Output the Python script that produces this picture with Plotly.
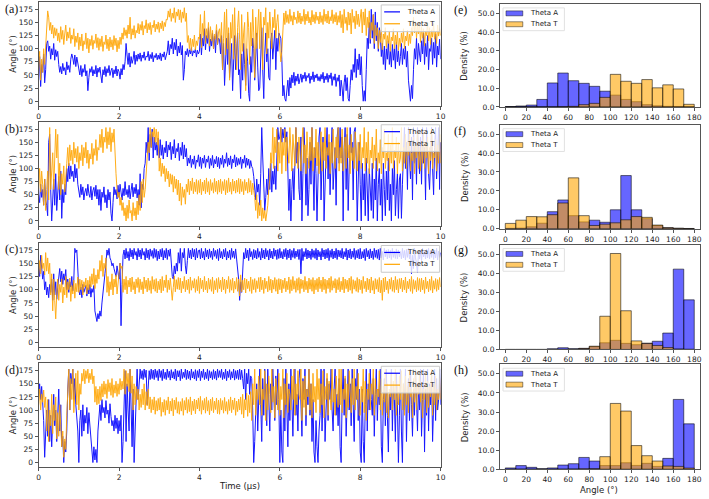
import plotly.graph_objects as go

W, H = 709, 499

# ---------------- data ----------------
time_us = [round(i * 0.025, 3) for i in range(401)]

a_theta_T = (
    [62, 95, 40, 80, 55, 100, 70, 110, 150, 172, 160, 135, 150, 128, 145, 120, 140, 125, 138, 115] +
    [130, 112, 142, 118, 135, 108, 128, 145, 115, 132, 120, 140, 110, 126, 118, 138, 104, 124, 112, 130] +
    [98, 122, 105, 128, 96, 115, 108, 130, 100, 120, 92, 118, 106, 125, 99, 116, 110, 128, 102, 121] +
    [97, 119, 104, 124, 95, 113, 108, 126, 100, 118, 96, 122, 103, 117, 98, 125, 106, 120, 94, 116] +
    [100, 122, 108, 130, 118, 140, 125, 136, 120, 145, 128, 160, 118, 138, 126, 144, 120, 135, 130, 148] +
    [128, 146, 135, 152, 126, 144, 138, 155, 130, 148, 136, 150, 127, 145, 140, 154, 132, 147, 137, 151] +
    [131, 149, 138, 153, 134, 150, 142, 156, 155, 172, 160, 176, 152, 168, 158, 178, 150, 170, 162, 175] +
    [155, 174, 150, 170, 158, 178, 152, 168, 112, 125, 100, 120, 96, 118, 104, 126, 98, 115, 106, 122] +
    [118, 165, 102, 148, 125, 172, 110, 138, 120, 150, 105, 142, 115, 135, 100, 128, 118, 146, 108, 132] +
    [138, 112, 150, 60, 120, 170, 88, 175, 100, 140, 40, 150, 120, 165, 80, 178, 110, 60, 140, 172] +
    [118, 60, 165, 95, 130, 150, 20, 110, 170, 140, 70, 150, 105, 175, 130, 45, 160, 100, 145, 175] +
    [100, 170, 130, 60, 160, 145, 178, 90, 150, 120, 170, 135, 100, 160, 140, 175, 120, 150, 165, 130] +
    [110, 75, 95, 150, 168, 146, 172, 150, 165, 148, 175, 152, 163, 145, 170, 155, 160, 148, 172, 150] +
    [168, 147, 162, 152, 175, 146, 166, 153, 171, 149, 160, 145, 173, 151, 165, 148, 170, 154, 162, 147] +
    [170, 150, 163, 146, 175, 152, 166, 149, 172, 147, 161, 153, 174, 148, 165, 151, 169, 145, 163, 150] +
    [172, 140, 165, 130, 175, 148, 160, 135, 170, 145, 168, 128, 175, 150, 162, 138, 172, 146, 166, 142] +
    [158, 175, 130, 170, 145, 176, 125, 160, 140, 172, 118, 150, 135, 165, 110, 145, 125, 140, 100, 135] +
    [112, 136, 98, 128, 118, 140, 102, 125, 110, 134, 95, 122, 115, 138, 100, 126, 108, 132, 97, 120] +
    [104, 130, 112, 138, 100, 124, 115, 135, 106, 128, 110, 140, 125, 160, 130, 152, 120, 145, 128, 150] +
    [112, 142, 120, 138, 105, 134, 125, 150, 115, 140, 108, 136, 122, 148, 118, 132, 110, 145, 124, 138] +
    [125])
a_theta_A = (
    [40, 85, 28, 70, 55, 90, 35, 60, 110, 115, 95, 105, 80, 100, 88, 110, 78, 98, 85, 95] +
    [70, 55, 66, 52, 72, 58, 64, 50, 75, 60, 68, 55, 80, 90, 82, 70, 88, 66, 84, 72] +
    [65, 50, 68, 47, 62, 55, 70, 48, 58, 20, 45, 62, 55, 66, 48, 60, 52, 68, 46, 63] +
    [55, 65, 48, 35, 60, 50, 66, 47, 62, 54, 68, 49, 58, 63, 45, 60, 52, 67, 48, 61] +
    [56, 42, 62, 50, 70, 60, 75, 110, 88, 70, 92, 65, 85, 72, 80, 95, 70, 88, 76, 90] +
    [80, 92, 76, 88, 82, 94, 78, 86, 84, 95, 77, 89, 81, 93, 75, 87, 83, 91, 79, 88] +
    [80, 92, 77, 90, 84, 94, 79, 88, 95, 115, 88, 108, 100, 120, 90, 112, 98, 118, 86, 105] +
    [92, 112, 88, 106, 40, 60, 95, 88, 100, 85, 98, 90, 102, 86, 96, 92, 100, 84, 97, 90] +
    [95, 128, 88, 120, 105, 138, 98, 125, 110, 140, 95, 118, 105, 130, 100, 124, 92, 135, 108, 120] +
    [118, 90, 125, 60, 110, 30, 95, 120, 70, 130, 45, 85, 110, 20, 80, 125, 60, 95, 130, 50] +
    [60, 5, 90, 40, 110, 70, 30, 100, 75, 15, 0, 85, 55, 120, 100, 40, 80, 130, 65, 20] +
    [25, 110, 140, 60, 5, 90, 130, 75, 100, 45, 40, 115, 130, 80, 110, 135, 60, 120, 95, 130] +
    [125, 120, 80, 10, 30, 5, 0, 20, 40, 10, 45, 25, 50, 35, 55, 30, 48, 38, 52, 33] +
    [40, 52, 36, 50, 43, 55, 38, 49, 45, 53, 34, 48, 41, 56, 37, 50, 44, 52, 39, 47] +
    [38, 51, 42, 55, 35, 48, 41, 53, 36, 50, 43, 54, 30, 47, 40, 52, 28, 45, 38, 50] +
    [10, 40, 25, 0, 35, 50, 20, 45, 5, 0, 30, 60, 40, 70, 55, 100, 45, 80, 60, 90] +
    [50, 85, 30, 0, 20, 0, 60, 120, 100, 150, 110, 175, 120, 165, 100, 170, 115, 150, 95, 140] +
    [125, 85, 110, 70, 105, 60, 100, 80, 115, 70, 95, 65, 108, 78, 100, 62, 112, 75, 96, 68] +
    [85, 110, 70, 100, 80, 105, 65, 95, 40, 20, 0, 30, 5, 60, 100, 80, 120, 70, 110, 90] +
    [75, 115, 90, 130, 70, 110, 85, 125, 60, 100, 95, 120, 70, 112, 82, 128, 65, 105, 88, 118] +
    [80])

b_theta_T = (
    [60, 100, 55, 95, 70, 30, 80, 20, 60, 95, 40, 178, 60, 100, 130, 60, 150, 175, 120, 165] +
    [60, 110, 50, 90, 70, 105, 55, 95, 110, 140, 105, 145, 115, 135, 108, 150, 120, 138, 112, 142] +
    [100, 130, 115, 145, 105, 140, 120, 150, 110, 135, 100, 128, 118, 148, 108, 138, 125, 155, 115, 140] +
    [135, 165, 140, 175, 130, 160, 150, 178, 138, 170, 145, 178, 132, 168, 150, 175, 120, 90, 60, 45] +
    [55, 30, 45, 20, 35, 10, 25, 0, 30, 5, 40, 15, 20, 0, 35, 10, 25, 2, 38, 12] +
    [50, 20, 75, 35, 80, 45, 60, 95, 110, 150, 130, 178, 140, 170, 160, 178, 150, 175, 145, 170] +
    [95, 120, 85, 110, 90, 105, 75, 100, 80, 95, 65, 90, 70, 88, 55, 85, 62, 80, 50, 78] +
    [38, 72, 30, 65, 45, 60, 32, 70, 55, 80, 50, 76, 58, 82, 52, 74, 56, 79, 51, 77] +
    [54, 80, 50, 74, 57, 78, 52, 82, 55, 75, 50, 79, 58, 73, 53, 81, 56, 76, 51, 78] +
    [55, 80, 52, 75, 58, 79, 50, 77, 54, 82, 56, 74, 51, 80, 57, 76, 53, 78, 55, 81] +
    [52, 80, 56, 75, 50, 79, 58, 74, 53, 81, 55, 77, 50, 72, 58, 45, 20, 50, 5, 35] +
    [10, 40, 0, 25, 5, 20, 0, 15, 30, 60, 80, 130, 110, 178, 100, 160, 130, 175, 95, 150] +
    [110, 178, 90, 150, 125, 175, 95, 160, 140, 110, 178, 120, 95, 165, 130, 105, 178, 140, 100, 160] +
    [120, 95, 150, 178, 110, 145, 90, 170, 125, 100, 160, 115, 178, 95, 140, 120, 175, 105, 150, 90] +
    [130, 170, 95, 150, 115, 178, 100, 140, 125, 165, 90, 150, 110, 175, 130, 100, 160, 120, 178, 95] +
    [140, 110, 175, 95, 130, 160, 100, 178, 120, 145, 90, 165, 115, 140, 100, 170, 125, 95, 150, 115] +
    [165, 100, 140, 120, 178, 95, 150, 110, 170, 90, 135, 120, 160, 100, 145, 115, 175, 95, 130, 110] +
    [155, 90, 140, 120, 175, 100, 130, 115, 165, 95, 145, 110, 178, 100, 135, 120, 160, 90, 150, 110] +
    [120, 178, 95, 140, 110, 165, 100, 150, 125, 175, 95, 130, 115, 160, 90, 145, 120, 170, 100, 140] +
    [95, 145, 110, 170, 100, 150, 120, 160, 90, 140, 115, 175, 100, 130, 120, 155, 95, 145, 110, 165] +
    [110])
b_theta_A = (
    [50, 35, 70, 45, 60, 30, 80, 40, 30, 10, 150, 165, 60, 0, 40, 80, 30, 90, 20, 60] +
    [85, 40, 95, 5, 60, 35, 70, 50, 100, 75, 110, 80, 105, 85, 95, 75, 108, 82, 100, 70] +
    [60, 45, 70, 50, 65, 40, 55, 62, 48, 70, 52, 45, 66, 40, 58, 64, 47, 68, 42, 60] +
    [30, 60, 20, 55, 45, 65, 35, 50, 25, 60, 40, 55, 15, 0, 35, 65, 50, 60, 42, 68] +
    [45, 70, 55, 40, 62, 48, 75, 50, 60, 45, 68, 42, 58, 72, 46, 64, 52, 70, 44, 60] +
    [30, 90, 25, 70, 60, 100, 110, 150, 130, 178, 115, 165, 140, 175, 120, 160, 135, 150, 125, 158] +
    [120, 155, 125, 145, 118, 140, 130, 152, 122, 145, 135, 150, 117, 142, 128, 155, 120, 138, 132, 148] +
    [115, 140, 125, 150, 118, 145, 122, 138, 105, 120, 110, 125, 102, 118, 108, 124, 100, 116, 112, 126] +
    [104, 122, 100, 120, 110, 125, 102, 118, 112, 124, 100, 119, 106, 125, 101, 117, 109, 123, 103, 121] +
    [100, 120, 108, 125, 102, 118, 110, 130, 104, 120, 107, 124, 100, 118, 111, 126, 103, 121, 106, 119] +
    [108, 122, 100, 118, 110, 125, 102, 120, 106, 118, 100, 115, 104, 100, 85, 60, 40, 80, 55, 70] +
    [30, 90, 178, 120, 60, 20, 45, 80, 50, 100, 60, 110, 55, 95, 70, 105, 60, 150, 178, 155] +
    [160, 178, 150, 175, 158, 178, 150, 170, 100, 20, 80, 0, 60, 100, 40, 140, 178, 110, 150, 60] +
    [40, 160, 0, 90, 178, 130, 30, 120, 10, 60, 150, 70, 178, 100, 20, 140, 90, 0, 120, 160] +
    [178, 40, 110, 160, 0, 80, 130, 178, 80, 150, 50, 120, 178, 60, 100, 140, 30, 160, 178, 110] +
    [178, 120, 160, 0, 140, 178, 60, 165, 20, 100, 178, 130, 150, 40, 170, 178, 120, 0, 90, 150] +
    [70, 0, 110, 40, 90, 10, 120, 50, 0, 100, 60, 20, 110, 5, 80, 40, 120, 0, 70, 100] +
    [30, 80, 0, 110, 60, 10, 95, 40, 120, 20, 70, 0, 100, 50, 115, 10, 60, 90, 5, 80] +
    [90, 5, 70, 130, 178, 100, 150, 60, 178, 120, 80, 160, 40, 178, 110, 150, 70, 178, 130, 90] +
    [160, 70, 178, 110, 140, 40, 178, 120, 90, 60, 150, 178, 100, 50, 140, 178, 80, 120, 178, 60] +
    [150])

c_theta_T = (
    [125, 155, 130, 165, 140, 150, 128, 170, 135, 160, 130, 150, 90, 130, 60, 120, 80, 45, 90, 120] +
    [80, 110, 95, 120, 75, 105, 90, 125, 85, 115, 100, 122, 78, 108, 92, 118, 84, 112, 96, 124] +
    [95, 120, 100, 118, 90, 115, 105, 122, 92, 118, 100, 125, 105, 130, 110, 140, 102, 128, 112, 138] +
    [120, 155, 135, 165, 125, 150, 140, 160, 95, 125, 88, 115, 100, 130, 90, 120, 105, 128, 92, 118] +
    [130, 150, 140, 145, 95, 120, 100, 125, 92, 118, 105, 122, 96, 124, 100, 115, 92, 120, 104, 123] +
    [95, 120, 100, 115, 92, 124, 102, 118, 96, 122, 99, 117, 93, 125, 101, 119, 97, 121, 94, 116] +
    [100, 120, 94, 125, 98, 118, 104, 128, 95, 118, 100, 122, 92, 80, 104, 126, 96, 119, 101, 123] +
    [100, 122, 94, 116, 102, 125, 96, 118, 100, 120, 93, 124, 99, 117, 103, 121, 95, 119, 98, 125] +
    [93, 122, 102, 118, 96, 125, 100, 116, 94, 122, 101, 119, 97, 124, 92, 117, 100, 121, 95, 123] +
    [102, 118, 96, 124, 100, 120, 93, 118, 102, 125, 95, 119, 99, 122, 94, 116, 101, 123, 97, 120] +
    [88, 128, 96, 118, 100, 122, 94, 120, 102, 116, 97, 124, 93, 119, 100, 121, 95, 117, 102, 123] +
    [96, 124, 100, 118, 93, 122, 102, 116, 96, 125, 99, 120, 94, 118, 101, 123, 97, 119, 92, 121] +
    [100, 120, 94, 118, 102, 122, 96, 116, 100, 124, 93, 119, 98, 125, 101, 117, 95, 121, 99, 123] +
    [93, 120, 102, 118, 96, 125, 100, 116, 94, 122, 101, 119, 97, 123, 92, 118, 100, 121, 96, 124] +
    [102, 118, 96, 124, 100, 120, 93, 118, 102, 122, 95, 125, 99, 117, 103, 121, 94, 119, 100, 123] +
    [96, 116, 100, 124, 94, 120, 102, 118, 96, 122, 99, 125, 93, 119, 101, 117, 97, 123, 95, 120] +
    [100, 118, 93, 125, 102, 116, 96, 122, 100, 120, 94, 124, 99, 117, 92, 121, 101, 119, 96, 123] +
    [94, 118, 80, 122, 96, 124, 100, 116, 93, 120, 101, 123, 97, 118, 95, 125, 100, 119, 94, 121] +
    [102, 122, 96, 118, 100, 124, 94, 116, 102, 120, 97, 125, 93, 119, 101, 117, 96, 123, 99, 121] +
    [96, 122, 100, 118, 93, 124, 102, 116, 96, 120, 99, 125, 94, 117, 101, 121, 97, 119, 100, 123] +
    [105])
c_theta_A = (
    [150, 125, 165, 140, 120, 135, 100, 115, 90, 105, 85, 110, 95, 120, 80, 130, 90, 115, 82, 105] +
    [125, 140, 115, 135, 110, 130, 118, 138, 100, 120, 95, 115, 105, 125, 98, 118, 178, 170, 175, 130] +
    [100, 90, 105, 85, 110, 95, 100, 108, 88, 104, 92, 110, 86, 102, 95, 108, 60, 45, 40, 55] +
    [45, 60, 50, 75, 90, 110, 130, 150, 175, 165, 178, 160, 155, 145, 150, 140, 130, 125, 145, 130] +
    [120, 150, 32, 110, 165, 175, 158, 178, 160, 172, 155, 178, 162, 175, 158, 178, 165, 172, 156, 178] +
    [162, 175, 158, 178, 165, 172, 156, 178, 160, 175, 157, 177, 163, 174, 159, 178, 161, 176, 155, 173] +
    [158, 176, 162, 178, 156, 174, 160, 178, 157, 175, 163, 177, 140, 125, 120, 145, 130, 150, 135, 170] +
    [150, 178, 135, 170, 160, 178, 145, 130, 155, 178, 160, 175, 158, 178, 162, 176, 156, 178, 160, 174] +
    [175, 158, 178, 160, 172, 156, 178, 162, 175, 158, 177, 161, 173, 157, 178, 163, 174, 159, 176, 155] +
    [178, 160, 172, 158, 176, 162, 178, 156, 172, 160, 175, 157, 178, 161, 173, 159, 177, 156, 150, 120] +
    [80, 115, 95, 150, 170, 158, 178, 160, 175, 155, 178, 162, 172, 157, 176, 160, 174, 158, 178, 161] +
    [172, 156, 178, 160, 175, 158, 178, 162, 174, 156, 177, 160, 173, 158, 178, 163, 175, 157, 176, 159] +
    [178, 160, 172, 158, 176, 162, 178, 157, 175, 160, 177, 156, 174, 161, 178, 159, 173, 162, 176, 157] +
    [176, 130, 178, 155, 172, 162, 178, 158, 175, 160, 173, 157, 177, 161, 174, 159, 178, 156, 175, 162] +
    [172, 156, 178, 162, 175, 158, 176, 160, 178, 155, 174, 161, 177, 158, 173, 160, 178, 157, 175, 162] +
    [174, 160, 178, 158, 172, 162, 178, 156, 175, 160, 177, 158, 173, 161, 178, 157, 174, 160, 176, 158] +
    [178, 158, 172, 160, 176, 155, 178, 162, 174, 158, 177, 160, 173, 157, 178, 161, 175, 159, 176, 156] +
    [178, 160, 172, 156, 178, 162, 175, 158, 176, 160, 174, 157, 178, 161, 173, 159, 177, 158, 175, 162] +
    [172, 158, 178, 160, 174, 156, 176, 161, 178, 158, 174, 130, 165, 140, 178, 160, 150, 132, 172, 158] +
    [175, 155, 178, 162, 172, 158, 176, 160, 178, 158, 174, 161, 177, 157, 175, 160, 178, 156, 173, 161] +
    [170])

d_theta_T = (
    [110, 140, 100, 130, 115, 138, 105, 125, 60, 120, 40, 100, 70, 130, 55, 110, 80, 125, 45, 95] +
    [50, 110, 70, 30, 60, 10, 45, 25, 90, 150, 178, 100, 160, 120, 178, 95, 140, 170, 110, 175] +
    [100, 150, 130, 170, 155, 178, 150, 175, 160, 178, 152, 170, 158, 178, 150, 165, 115, 145, 110, 140] +
    [112, 145, 118, 150, 125, 155, 130, 150, 122, 158, 135, 152, 128, 160, 124, 148, 132, 155, 126, 150] +
    [130, 160, 138, 155, 140, 178, 130, 175, 145, 170, 135, 178, 132, 165, 100, 150, 110, 145, 120, 140] +
    [100, 130, 105, 140, 110, 150, 100, 135, 108, 140, 102, 125, 95, 120, 100, 125, 92, 118, 98, 122] +
    [100, 124, 88, 115, 96, 120, 90, 118, 100, 125, 93, 117, 98, 122, 89, 119, 101, 124, 94, 116] +
    [92, 116, 98, 122, 90, 118, 100, 124, 94, 120, 97, 125, 91, 117, 99, 121, 93, 119, 102, 123] +
    [98, 126, 92, 118, 100, 122, 94, 125, 98, 118, 91, 121, 99, 124, 95, 117, 101, 123, 93, 119] +
    [92, 122, 100, 118, 94, 124, 98, 116, 92, 120, 99, 125, 95, 119, 101, 123, 90, 117, 97, 121] +
    [100, 125, 92, 130, 85, 120, 100, 132, 88, 128, 95, 135, 80, 150, 110, 178, 90, 140, 120, 165] +
    [110, 178, 90, 140, 120, 175, 80, 150, 100, 165, 130, 95, 178, 115, 145, 85, 160, 125, 100, 170] +
    [90, 145, 120, 178, 85, 150, 110, 170, 95, 140, 130, 100, 165, 120, 178, 90, 150, 110, 175, 130] +
    [120, 178, 80, 155, 105, 165, 90, 140, 125, 178, 100, 150, 85, 170, 115, 145, 95, 178, 120, 160] +
    [95, 150, 110, 175, 85, 145, 120, 170, 90, 155, 130, 100, 178, 115, 140, 90, 165, 125, 105, 178] +
    [110, 178, 95, 140, 120, 165, 85, 150, 105, 175, 125, 95, 160, 110, 178, 100, 145, 120, 170, 90] +
    [90, 145, 115, 178, 95, 155, 80, 140, 120, 170, 100, 150, 130, 178, 90, 160, 110, 140, 125, 175] +
    [100, 160, 90, 145, 115, 178, 95, 150, 85, 140, 125, 170, 100, 155, 120, 178, 90, 145, 110, 165] +
    [120, 175, 100, 150, 90, 165, 110, 145, 95, 178, 125, 140, 85, 160, 115, 178, 100, 150, 130, 170] +
    [115, 150, 85, 140, 120, 170, 95, 155, 105, 145, 125, 178, 90, 150, 110, 165, 100, 140, 120, 160] +
    [120])
d_theta_A = (
    [130, 150, 120, 145, 115, 80, 10, 60, 100, 50, 120, 40, 90, 30, 110, 130, 70, 100, 40, 90] +
    [140, 60, 110, 30, 50, 0, 40, 20, 60, 140, 178, 100, 170, 150, 178, 120, 160, 110, 90, 60] +
    [0, 80, 100, 50, 110, 60, 90, 75, 105, 55, 95, 70, 40, 20, 0, 30, 5, 25, 0, 60] +
    [90, 110, 80, 120, 95, 105, 85, 118, 92, 100, 75, 112, 88, 70, 80, 60, 90, 65, 85, 55] +
    [80, 60, 90, 0, 40, 90, 175, 40, 150, 100, 60, 178, 120, 30, 140, 0, 60, 150, 178, 120] +
    [165, 178, 160, 175, 158, 178, 162, 176, 110, 150, 175, 158, 178, 160, 176, 158, 178, 162, 175, 156] +
    [178, 162, 175, 156, 178, 160, 172, 158, 178, 162, 174, 157, 177, 161, 173, 159, 178, 156, 175, 163] +
    [175, 156, 178, 160, 172, 162, 178, 158, 176, 160, 174, 157, 178, 161, 173, 159, 177, 156, 175, 162] +
    [178, 156, 174, 162, 178, 158, 172, 160, 178, 156, 175, 161, 173, 158, 177, 160, 174, 157, 178, 162] +
    [175, 162, 178, 158, 172, 160, 178, 156, 174, 162, 177, 158, 173, 161, 178, 157, 175, 160, 176, 158] +
    [178, 158, 176, 160, 140, 178, 120, 170, 150, 178, 130, 165, 160, 100, 0, 40, 90, 150, 60, 120] +
    [178, 110, 40, 160, 90, 178, 130, 70, 178, 120, 60, 150, 100, 178, 140, 80, 165, 110, 178, 120] +
    [0, 100, 20, 0, 160, 60, 178, 120, 30, 150, 80, 178, 110, 50, 140, 178, 90, 130, 60, 160] +
    [178, 100, 50, 160, 120, 178, 70, 140, 110, 178, 90, 150, 40, 120, 20, 0, 80, 30, 0, 60] +
    [90, 178, 60, 130, 178, 40, 110, 160, 80, 150, 120, 178, 100, 60, 140, 178, 90, 130, 70, 160] +
    [30, 0, 120, 178, 90, 160, 50, 130, 178, 100, 150, 70, 178, 110, 40, 160, 120, 178, 80, 140] +
    [20, 0, 140, 40, 0, 110, 178, 60, 150, 100, 178, 120, 90, 160, 50, 130, 178, 80, 140, 110] +
    [178, 30, 0, 120, 160, 70, 178, 90, 20, 130, 100, 178, 60, 150, 120, 40, 170, 110, 0, 90] +
    [178, 60, 0, 150, 100, 178, 40, 130, 160, 80, 178, 110, 50, 140, 90, 178, 120, 60, 150, 100] +
    [178, 50, 120, 178, 20, 140, 90, 178, 60, 150, 110, 170, 40, 130, 178, 80, 160, 100, 120, 178] +
    [110])

angle_bin_edges = [0, 10, 20, 30, 40, 50, 60, 70, 80, 90, 100,
                   110, 120, 130, 140, 150, 160, 170, 180]

# density (%) per 10-degree bin
e_hist_A = [0.2, 0.5, 1.0, 4.0, 12.8, 18.1, 14.0, 12.6, 11.0, 8.4,
            6.3, 4.0, 2.8, 1.2, 0.6, 0.3, 0.2, 0.1]
e_hist_T = [0.0, 0.0, 0.0, 0.0, 0.0, 0.1, 0.3, 1.2, 1.9, 5.1,
            17.4, 13.7, 12.6, 14.6, 10.2, 11.8, 9.6, 1.4]
f_hist_A = [0.2, 0.3, 1.0, 2.9, 9.0, 15.2, 6.9, 3.6, 4.5, 3.4,
            10.0, 28.1, 10.0, 5.3, 1.7, 0.5, 0.2, 0.1]
f_hist_T = [2.8, 4.5, 6.4, 6.3, 7.4, 13.6, 26.9, 6.9, 1.7, 2.4,
            3.1, 4.7, 6.4, 6.0, 1.9, 0.5, 0.2, 0.1]
g_hist_A = [0.0, 0.0, 0.0, 0.0, 0.4, 0.9, 0.4, 0.6, 1.5, 3.5,
            4.8, 3.2, 2.5, 3.3, 4.3, 8.6, 42.1, 26.0]
g_hist_T = [0.0, 0.0, 0.0, 0.0, 0.0, 0.1, 0.2, 0.5, 1.7, 17.4,
            50.3, 20.3, 4.5, 3.1, 2.1, 1.0, 0.3, 0.1]
h_hist_A = [0.7, 1.9, 1.0, 0.3, 0.7, 2.2, 2.9, 6.2, 4.3, 1.9,
            1.9, 3.4, 2.0, 3.1, 1.5, 5.7, 36.6, 23.8]
h_hist_T = [0.0, 0.0, 0.0, 0.0, 0.0, 0.0, 0.1, 0.2, 0.3, 6.6,
            34.5, 30.5, 12.4, 7.1, 4.3, 1.7, 1.5, 0.6]

series_names = ["Theta A", "Theta T"]
time_series = [(a_theta_A, a_theta_T), (b_theta_A, b_theta_T),
               (c_theta_A, c_theta_T), (d_theta_A, d_theta_T)]
histograms = [(e_hist_A, e_hist_T), (f_hist_A, f_hist_T),
              (g_hist_A, g_hist_T), (h_hist_A, h_hist_T)]
left_labels = ["(a)", "(b)", "(c)", "(d)"]
right_labels = ["(e)", "(f)", "(g)", "(h)"]

# ---------------- layout helpers ----------------
def px_x(p):
    return p / W

def px_y(p):
    return 1 - p / H

left_x = [px_x(37), px_x(443)]
right_x = [px_x(503), px_x(705)]
left_rows = [(2, 107), (123, 228), (245, 351), (367, 472)]
right_rows = [(4, 108), (126, 231), (247, 353), (368, 474)]

FONT = "DejaVu Sans"
TXT = "#222222"
FRAME = "#555555"
BLUE = "#0000ff"
ORANGE = "#ffa500"
BLUE_FILL = "rgba(0,0,255,0.6)"
ORANGE_FILL = "rgba(255,165,0,0.6)"
EDGE = "rgba(0,0,0,0.55)"

fig = go.Figure()
annotations = []
shapes = []
layout = dict(width=W, height=H, margin=dict(l=0, r=0, t=0, b=0),
              paper_bgcolor="white", plot_bgcolor="white",
              font=dict(family=FONT, size=7.5, color=TXT),
              barmode="overlay", showlegend=False)

angle_centers = [(angle_bin_edges[i] + angle_bin_edges[i + 1]) / 2
                 for i in range(len(angle_bin_edges) - 1)]
bin_width = angle_bin_edges[1] - angle_bin_edges[0]


def axis_common():
    return dict(showgrid=False, zeroline=False, showline=True, mirror=True,
                linecolor=FRAME, linewidth=1, ticks="outside", ticklen=3,
                tickcolor=FRAME, tickwidth=1,
                tickfont=dict(family=FONT, size=7.5, color=TXT))


def text(t, x, y, size=7, xanchor="left", angle=0, family=FONT, color=TXT):
    annotations.append(dict(text=t, x=px_x(x), y=px_y(y), xref="paper", yref="paper",
                            showarrow=False, xanchor=xanchor, yanchor="middle",
                            textangle=angle, font=dict(family=family, size=size, color=color)))


def rect(x0, y0, x1, y1, fill, line, lw=1):
    shapes.append(dict(type="rect", xref="paper", yref="paper",
                       x0=px_x(x0), x1=px_x(x1), y0=px_y(y1), y1=px_y(y0),
                       fillcolor=fill, line=dict(color=line, width=lw)))


def hline(x0, x1, y, color, lw=1.2):
    shapes.append(dict(type="line", xref="paper", yref="paper",
                       x0=px_x(x0), x1=px_x(x1), y0=px_y(y), y1=px_y(y),
                       line=dict(color=color, width=lw)))


ax = 1
for i, (sA, sT) in enumerate(time_series):
    xs = "" if ax == 1 else str(ax)
    for s, c, nm in ((sA, BLUE, series_names[0]), (sT, ORANGE, series_names[1])):
        fig.add_trace(go.Scatter(x=time_us[:len(s)], y=s, mode="lines", name=nm,
                                 line=dict(color=c, width=1), opacity=0.9,
                                 xaxis="x" + xs, yaxis="y" + xs))
    top, bot = left_rows[i]
    xa = axis_common()
    xa.update(domain=left_x, range=[0, 10], tickvals=[0, 2, 4, 6, 8, 10],
              anchor="y" + xs)
    ya = axis_common()
    ya.update(domain=[px_y(bot), px_y(top)], range=[-9, 189],
              tickvals=[0, 25, 50, 75, 100, 125, 150, 175], anchor="x" + xs)
    layout["xaxis" + xs] = xa
    layout["yaxis" + xs] = ya
    # legend box (upper right)
    rect(383, top + 3, 442, top + 30, "rgba(255,255,255,0.8)", "rgba(200,200,200,1)")
    hline(386, 402, top + 10, BLUE)
    hline(386, 402, top + 22, ORANGE)
    text(series_names[0], 407, top + 10)
    text(series_names[1], 407, top + 22)
    text("Angle (°)", 11, (top + bot) / 2, size=8.5, xanchor="center", angle=-90)
    text(left_labels[i], 1, top + 7, size=12, family="Liberation Serif", color="#111")
    ax += 1

for i, (hA, hT) in enumerate(histograms):
    xs = str(ax)
    for h, c, nm in ((hA, BLUE_FILL, series_names[0]), (hT, ORANGE_FILL, series_names[1])):
        fig.add_trace(go.Bar(x=angle_centers, y=h, width=bin_width, name=nm,
                             marker=dict(color=c, line=dict(color=EDGE, width=1)),
                             xaxis="x" + xs, yaxis="y" + xs))
    top, bot = right_rows[i]
    xa = axis_common()
    xa.update(domain=right_x, range=[-5, 185.5], tickvals=list(range(0, 181, 20)),
              anchor="y" + xs)
    ya = axis_common()
    ya.update(domain=[px_y(bot), px_y(top)], range=[0, 55],
              tickvals=[0, 10, 20, 30, 40, 50], tickformat=".1f", ticksuffix="%",
              anchor="x" + xs)
    layout["xaxis" + xs] = xa
    layout["yaxis" + xs] = ya
    # legend (upper left)
    rect(506, top + 4, 568, top + 27, "rgba(255,255,255,0.8)", "rgba(225,225,225,1)")
    rect(509, top + 7, 526, top + 12, BLUE_FILL, EDGE, 0.8)
    rect(509, top + 18, 526, top + 23, ORANGE_FILL, EDGE, 0.8)
    text(series_names[0], 531, top + 9.5)
    text(series_names[1], 531, top + 20.5)
    text("Density (%)", 467, (top + bot) / 2, size=8.5, xanchor="center", angle=-90)
    text(right_labels[i], 454, top + 6, size=12, family="Liberation Serif", color="#111")
    ax += 1

text("Time (µs)", 240, 491, size=8.5, xanchor="center")
text("Angle (°)", 603, 494.5, size=8.5, xanchor="center")

layout["annotations"] = annotations
layout["shapes"] = shapes
fig.update_layout(**layout)
fig.write_html("out.html")
